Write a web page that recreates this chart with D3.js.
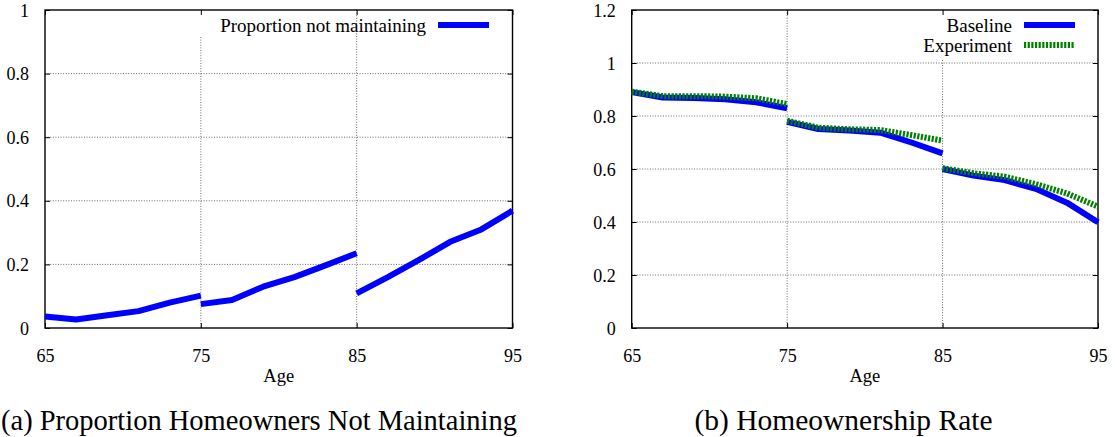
<!DOCTYPE html>
<html>
<head>
<meta charset="utf-8">
<script src="https://cdn.jsdelivr.net/npm/d3@7/dist/d3.min.js"></script>
<style>
  html, body { margin: 0; padding: 0; background: #fff; }
  svg { display: block; }
  svg text { font-family: "Liberation Serif"; fill: #000; }
</style>
</head>
<body>
<svg id="fig" width="1115" height="437"></svg>
<script>
// Ages sampled every two years; each run of six points is one age band.
const ages       = [65, 67, 69, 71, 73, 75, 75, 77, 79, 81, 83, 85, 85, 87, 89, 91, 93, 95];
const ageBand    = [0, 0, 0, 0, 0, 0, 1, 1, 1, 1, 1, 1, 2, 2, 2, 2, 2, 2];

// Panel (a): share of homeowners not maintaining their home
const notMaintaining = [0.036, 0.027, 0.040, 0.053, 0.080, 0.102,
                        0.075, 0.088, 0.130, 0.160, 0.197, 0.235,
                        0.109, 0.160, 0.214, 0.271, 0.310, 0.369];

// Panel (b): homeownership rate
const baseline   = [0.890, 0.870, 0.868, 0.863, 0.852, 0.829,
                    0.778, 0.751, 0.745, 0.737, 0.700, 0.659,
                    0.600, 0.575, 0.558, 0.525, 0.473, 0.399];
const experiment = [0.892, 0.875, 0.875, 0.873, 0.867, 0.845,
                    0.782, 0.756, 0.750, 0.747, 0.728, 0.707,
                    0.603, 0.584, 0.571, 0.543, 0.508, 0.458];

const xTicks        = [65, 75, 85, 95];
const yTicksA       = [0, 0.2, 0.4, 0.6, 0.8, 1];
const yTickLabelsA  = ["0", "0.2", "0.4", "0.6", "0.8", "1"];
const yTicksB       = [0, 0.2, 0.4, 0.6, 0.8, 1, 1.2];
const yTickLabelsB  = ["0", "0.2", "0.4", "0.6", "0.8", "1", "1.2"];

const seriesA = [{ name: "Proportion not maintaining", values: notMaintaining, kind: "solid" }];
const seriesB = [
  { name: "Baseline",   values: baseline,   kind: "solid" },
  { name: "Experiment", values: experiment, kind: "dotted" }
];

const svg = d3.select("#fig");
const BLUE = "#0000ff", GREEN = "#008000";
const FONT = '"Liberation Serif"';

function panel(opts) {
  const { left, right, top, bottom, yMax, yTicks, yLabels, series,
          caption, captionX, captionWidth, keyTextRight, gridGap } = opts;
  const x = d3.scaleLinear().domain([65, 95]).range([left, right]);
  const y = d3.scaleLinear().domain([0, yMax]).range([bottom, top]);
  const g = svg.append("g");

  // dotted grid
  const grid = g.append("g").attr("stroke", "#444").attr("stroke-width", 0.8)
    .attr("stroke-dasharray", "1,1.6").attr("fill", "none");
  yTicks.filter(v => v > 0 && v < yMax).forEach(v => {
    grid.append("line").attr("x1", left).attr("x2", right).attr("y1", y(v)).attr("y2", y(v));
  });
  xTicks.filter(v => v > 65 && v < 95).forEach(v => {
    const y0 = gridGap && gridGap.age === v ? gridGap.y : top;
    grid.append("line").attr("x1", x(v)).attr("x2", x(v)).attr("y1", y0).attr("y2", bottom);
  });

  // axes with inward ticks, mirrored on the opposite sides
  const fmtY = d => yLabels[yTicks.indexOf(d)];
  const axL = g.append("g").attr("transform", `translate(${left},0)`)
    .call(d3.axisLeft(y).tickValues(yTicks).tickFormat(fmtY).tickSizeInner(-5).tickSizeOuter(0).tickPadding(16));
  const axR = g.append("g").attr("transform", `translate(${right},0)`)
    .call(d3.axisRight(y).tickValues(yTicks).tickFormat("").tickSizeInner(-5).tickSizeOuter(0));
  const axB = g.append("g").attr("transform", `translate(0,${bottom})`)
    .call(d3.axisBottom(x).tickValues(xTicks).tickFormat(d3.format("d")).tickSizeInner(-5).tickSizeOuter(0).tickPadding(21));
  const axT = g.append("g").attr("transform", `translate(0,${top})`)
    .call(d3.axisTop(x).tickValues(xTicks).tickFormat("").tickSizeInner(-5).tickSizeOuter(0));
  [axL, axR, axB, axT].forEach(a => {
    a.attr("font-family", null).attr("font-size", 18);
    a.select(".domain").remove();
    a.selectAll(".tick line").attr("stroke", "#000").attr("stroke-width", 1);
    a.selectAll("text").style("font-family", FONT).attr("fill", "#000");
  });
  axL.selectAll("text").attr("dy", "0.34em");
  axB.selectAll("text").attr("dy", "0.71em");

  // frame
  g.append("rect").attr("x", left).attr("y", top).attr("width", right - left).attr("height", bottom - top)
    .attr("fill", "none").attr("stroke", "#000").attr("stroke-width", 1.4);

  // series lines, broken at each age band boundary
  const line = d3.line().x(d => x(d.age)).y(d => y(d.v));
  series.forEach(s => {
    const pts = ages.map((a, i) => ({ age: a, v: s.values[i], band: ageBand[i] }));
    const bands = d3.groups(pts, d => d.band).map(d => d[1]);
    bands.forEach(b => {
      const p = g.append("path").attr("d", line(b)).attr("fill", "none")
        .attr("stroke-width", 6).attr("stroke-linejoin", "round");
      if (s.kind === "solid") p.attr("stroke", BLUE);
      else p.attr("stroke", GREEN).attr("stroke-dasharray", "2.2,1.45");
    });
  });

  // key
  series.forEach((s, i) => {
    const ky = 25 + i * 20;
    g.append("text").attr("x", keyTextRight).attr("y", ky).attr("dy", "0.35em")
      .style("font-family", FONT).attr("text-anchor", "end").attr("font-size", 19).text(s.name);
    const k = g.append("line").attr("x1", keyTextRight + 12).attr("x2", keyTextRight + 63)
      .attr("y1", ky).attr("y2", ky).attr("stroke-width", 6);
    if (s.kind === "solid") k.attr("stroke", BLUE);
    else k.attr("stroke", GREEN).attr("stroke-dasharray", "2.2,1.45");
  });

  // axis title and caption
  g.append("text").attr("x", (left + right) / 2).attr("y", 382).attr("text-anchor", "middle")
    .style("font-family", FONT).attr("font-size", 18.5).text("Age");
  g.append("text").attr("x", captionX).attr("y", 430).attr("text-anchor", "middle")
    .style("font-family", FONT).attr("font-size", 28.5)
    .attr("textLength", captionWidth).attr("lengthAdjust", "spacingAndGlyphs").text(caption);
}

panel({
  left: 45, right: 512.5, top: 10, bottom: 328, yMax: 1,
  yTicks: yTicksA, yLabels: yTickLabelsA, series: seriesA,
  caption: "(a) Proportion Homeowners Not Maintaining", captionX: 259, captionWidth: 516,
  keyTextRight: 426, gridGap: { age: 75, y: 37 }
});
panel({
  left: 631.7, right: 1098, top: 10, bottom: 328, yMax: 1.2,
  yTicks: yTicksB, yLabels: yTickLabelsB, series: seriesB,
  caption: "(b) Homeownership Rate", captionX: 843.5, captionWidth: 298,
  keyTextRight: 1012, gridGap: { age: 85, y: 60 }
});
</script>
</body>
</html>
